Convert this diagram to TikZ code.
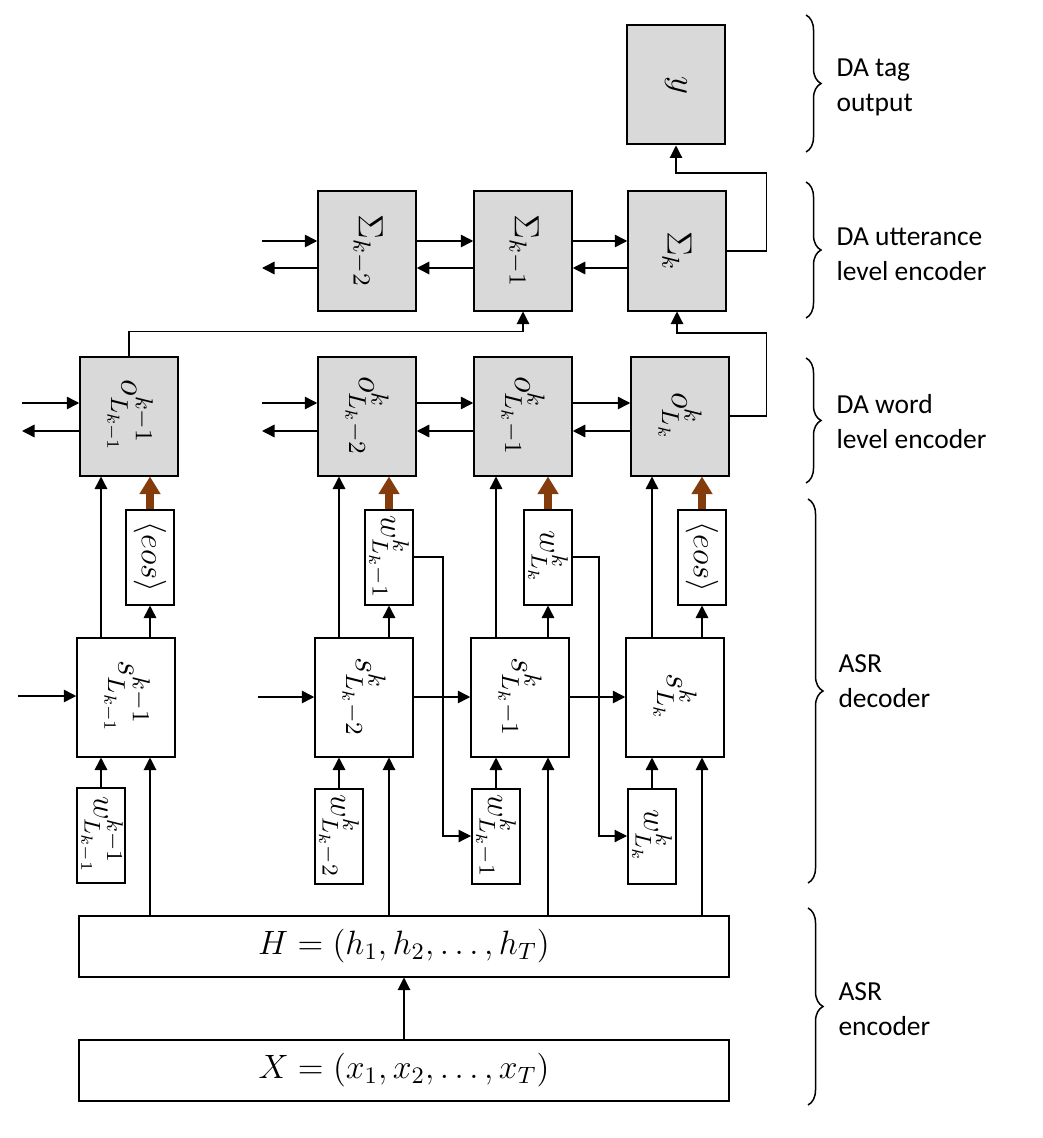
\RequirePackage{fix-cm}
\documentclass[tikz,border=0pt]{standalone}
\usepackage[no-math]{fontspec}
\setmainfont{Carlito}
\usepackage{amsmath}
\usepackage{graphicx}
\usetikzlibrary{arrows.meta,calc,decorations.pathreplacing}
\definecolor{boxgray}{HTML}{D9D9D9}
\definecolor{eosbrown}{HTML}{843C0C}
\newcommand{\rlab}[1] {
  \rotatebox{-90}{$#1$}}

\begin{document}
\begin{tikzpicture}[x=0.4pt,y=-0.4pt,>={Triangle[length=5pt,width=5pt]},
	blk/.style={draw,line width=0.8pt,minimum width=39pt,minimum height=47.6pt,inner sep=0pt,font=\fontsize{14}{16}\selectfont},
	gblk/.style={blk,fill=boxgray},
	sblk/.style={draw,line width=0.8pt,minimum width=19.2pt,minimum height=38pt,inner sep=0pt,font=\fontsize{13}{15}\selectfont},
	longbox/.style={draw,line width=0.8pt,minimum width=259.6pt,minimum height=24.4pt,inner sep=0pt,font=\fontsize{13.5}{16}\selectfont},
	link/.style={->,line width=0.6pt},
	thinlink/.style={->,line width=0.45pt},
	eosarrow/.style={-{Triangle[length=7pt,width=8pt]},line width=3.2pt,eosbrown},
	brc/.style={decorate,decoration={brace,amplitude=6pt},line width=0.6pt},
	lab/.style={anchor=west,align=left,inner sep=0pt,font=\fontsize{11}{14}\selectfont}]
					\useasboundingbox (0,0) rectangle (1042,1138);
					%DA TAG
					\node[gblk] (yout) at (676,85) {\rlab{y}};
					%UTTERANCE LEVEL
					\node[gblk] (u2) at (367,251) {\rlab{\Sigma_{k-2}}};
					\node[gblk] (u1) at (523,251) {\rlab{\Sigma_{k-1}}};
					\node[gblk] (u0) at (677,251) {\rlab{\Sigma_{k}}};
					%WORD LEVEL
					\node[gblk] (o1) at (129,416) {\rlab{o^{k-1}_{L_{k-1}}}};
					\node[gblk] (o2) at (367,416) {\rlab{o^{k}_{L_k-2}}};
					\node[gblk] (o3) at (523,416) {\rlab{o^{k}_{L_k-1}}};
					\node[gblk] (o4) at (680,416) {\rlab{o^{k}_{L_k}}};
					%DECODER
					\node[blk] (s1) at (126,697) {\rlab{s^{k-1}_{L_{k-1}}}};
					\node[blk] (s2) at (364,697) {\rlab{s^{k}_{L_k-2}}};
					\node[blk] (s3) at (520,697) {\rlab{s^{k}_{L_k-1}}};
					\node[blk] (s4) at (675,697) {\rlab{s^{k}_{L_k}}};
					\node[sblk] (e1) at (150,557) {\rlab{\langle eos\rangle}};
					\node[sblk] (e2) at (389,557) {\rlab{w^{k}_{L_k-1}}};
					\node[sblk] (e3) at (548,557) {\rlab{w^{k}_{L_k}}};
					\node[sblk] (e4) at (702,557) {\rlab{\langle eos\rangle}};
					\node[sblk] (w1) at (101,835) {\rlab{w^{k-1}_{L_{k-1}}}};
					\node[sblk] (w2) at (339,836) {\rlab{w^{k}_{L_k-2}}};
					\node[sblk] (w3) at (496,836) {\rlab{w^{k}_{L_k-1}}};
					\node[sblk] (w4) at (652,836) {\rlab{w^{k}_{L_k}}};
					%ENCODER
					\node[longbox] (H) at (404,946) {$H=(h_1,h_2,\dots,h_T)$};
					\node[longbox] (X) at (404,1070) {$X=(x_1,x_2,\dots,x_T)$};
					%free ends
					\coordinate (uin) at (262,241);
					\coordinate (uout) at (262,268);
					\coordinate (oin) at (22,403);
					\coordinate (oout) at (22,431);
					\coordinate (oin2) at (262,403);
					\coordinate (oout2) at (262,431);
					\coordinate (sin) at (18,696);
					\coordinate (sin2) at (258,697);
					%HORIZONTAL
					\draw[link] (uin) -- (uin -| u2.west);
					\draw[link] (uout -| u2.west) -- (uout);
					\draw[link] (uin -| u2.east) -- (uin -| u1.west);
					\draw[link] (uout -| u1.west) -- (uout -| u2.east);
					\draw[link] (uin -| u1.east) -- (uin -| u0.west);
					\draw[link] (uout -| u0.west) -- (uout -| u1.east);
					\draw[link] (oin) -- (oin -| o1.west);
					\draw[link] (oout -| o1.west) -- (oout);
					\draw[link] (oin2) -- (oin2 -| o2.west);
					\draw[link] (oout2 -| o2.west) -- (oout2);
					\draw[link] (oin2 -| o2.east) -- (oin2 -| o3.west);
					\draw[link] (oout2 -| o3.west) -- (oout2 -| o2.east);
					\draw[link] (oin2 -| o3.east) -- (oin2 -| o4.west);
					\draw[link] (oout2 -| o4.west) -- (oout2 -| o3.east);
					\draw[link] (sin) -- (sin -| s1.west);
					\draw[link] (sin2) -- (sin2 -| s2.west);
					\draw[link] (s2.east) -- (s3.west);
					\draw[link] (s3.east) -- (s4.west);
					%VERTICAL
					\draw[link] (w1.north) -- (w1.north |- s1.south);
					\draw[link] (w2.north) -- (w2.north |- s2.south);
					\draw[link] (w3.north) -- (w3.north |- s3.south);
					\draw[link] (w4.north) -- (w4.north |- s4.south);
					\draw[link] (s1.north -| w1.north) -- (w1.north |- o1.south);
					\draw[link] (s2.north -| w2.north) -- (w2.north |- o2.south);
					\draw[link] (s3.north -| w3.north) -- (w3.north |- o3.south);
					\draw[link] (s4.north -| w4.north) -- (w4.north |- o4.south);
					\draw[link] (s1.north -| e1.south) -- (e1.south);
					\draw[link] (s2.north -| e2.south) -- (e2.south);
					\draw[link] (s3.north -| e3.south) -- (e3.south);
					\draw[link] (s4.north -| e4.south) -- (e4.south);
					\draw[eosarrow] (e1.north) -- (e1.north |- o1.south);
					\draw[eosarrow] (e2.north) -- (e2.north |- o2.south);
					\draw[eosarrow] (e3.north) -- (e3.north |- o3.south);
					\draw[eosarrow] (e4.north) -- (e4.north |- o4.south);
					\draw[thinlink] (e1.south |- H.north) -- (e1.south |- s1.south);
					\draw[thinlink] (e2.south |- H.north) -- (e2.south |- s2.south);
					\draw[thinlink] (e3.south |- H.north) -- (e3.south |- s3.south);
					\draw[thinlink] (e4.south |- H.north) -- (e4.south |- s4.south);
					\draw[thinlink] (e2.east) -- ++(29,0) |- (w3.west);
					\draw[thinlink] (e3.east) -- ++(26,0) |- (w4.west);
					\draw[thinlink] (X.north) -- (H.south);
					%UP TO UTTERANCE AND TAG
					\draw[thinlink] (o1.north) -- ++(0,-24) -| (u1.south);
					\draw[thinlink] (o4.east) -- ++(37,0) -- ++(0,-83) -| (u0.south);
					\draw[thinlink] (u0.east) -- ++(40,0) -- ++(0,-78) -| (yout.south);
					%BRACES
					\draw[brc] (806,15) -- (806,152);
					\draw[brc] (806,182) -- (806,318);
					\draw[brc] (806,358) -- (806,483);
					\draw[brc] (808,499) -- (808,883);
					\draw[brc] (808,908) -- (808,1105);
					\node[lab] (ltag) at (836,87) {DA tag\\output};
					\node[lab] (lutt) at (836,254) {DA utterance\\level encoder};
					\node[lab] (lword) at (836,422) {DA word\\level encoder};
					\node[lab] (ldec) at (838,681) {ASR\\decoder};
					\node[lab] (lenc) at (838,1009) {ASR\\encoder};
\end{tikzpicture}
\end{document}
